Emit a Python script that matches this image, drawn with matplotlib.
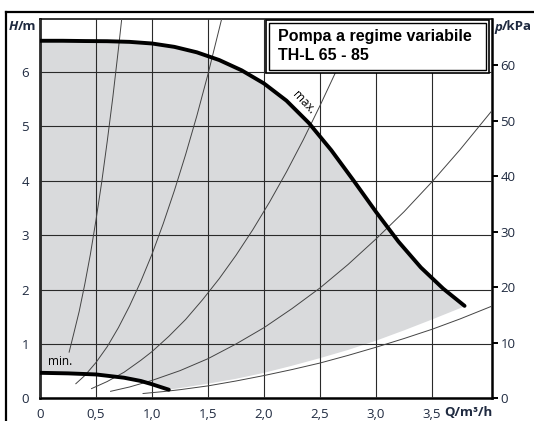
import matplotlib
matplotlib.use("Agg")
import matplotlib.pyplot as plt
from matplotlib.patches import Rectangle
from matplotlib.lines import Line2D

plt.rcParams["font.family"] = ["Open Sans", "DejaVu Sans"]

# %% data (Q in m3/h, H in m)
max_q = [0, 0.2, 0.4, 0.6, 0.8, 1.0, 1.2, 1.4, 1.6, 1.8, 2.0, 2.2, 2.4, 2.6, 2.8, 3.0, 3.2, 3.4, 3.6, 3.79]
max_h = [6.57, 6.57, 6.565, 6.562, 6.55, 6.52, 6.458, 6.358, 6.216, 6.027, 5.785, 5.47, 5.06, 4.56,
         4.0, 3.425, 2.88, 2.405, 2.015, 1.70]

min_q = [0, 0.25, 0.5, 0.75, 0.9, 1.0, 1.15]
min_h = [0.47, 0.46, 0.44, 0.38, 0.32, 0.26, 0.16]

# lower edge of the grey working range
edge_q = [1.15, 1.25, 1.5, 1.75, 2.0, 2.25, 2.5, 2.75, 3.0, 3.25, 3.5, 3.79]
edge_h = [0.16, 0.19, 0.27, 0.36, 0.47, 0.60, 0.74, 0.89, 1.06, 1.25, 1.45, 1.69]

# system curves
sys_curves = [
    ([0.26, 0.3, 0.35, 0.4, 0.45, 0.5, 0.55, 0.6, 0.65, 0.7, 0.73],
     [0.85, 1.18, 1.6, 2.10, 2.65, 3.28, 3.96, 4.72, 5.53, 6.42, 6.98]),
    ([0.32, 0.4, 0.5, 0.6, 0.7, 0.8, 0.9, 1.0, 1.1, 1.2, 1.3, 1.4, 1.5, 1.63],
     [0.27, 0.42, 0.66, 0.95, 1.30, 1.70, 2.15, 2.65, 3.21, 3.82, 4.48, 5.19, 5.96, 7.04]),
    ([0.46, 0.6, 0.75, 0.9, 1.0, 1.15, 1.3, 1.45, 1.6, 1.75, 1.9, 2.05, 2.2, 2.35, 2.5, 2.65, 2.85],
     [0.18, 0.31, 0.48, 0.70, 0.86, 1.14, 1.45, 1.81, 2.20, 2.63, 3.10, 3.61, 4.16, 4.75, 5.38, 6.04, 6.98]),
    ([0.63, 0.8, 1.0, 1.25, 1.5, 1.75, 2.0, 2.25, 2.5, 2.75, 3.0, 3.25, 3.5, 3.75, 4.04],
     [0.13, 0.21, 0.33, 0.51, 0.73, 1.0, 1.30, 1.65, 2.03, 2.46, 2.93, 3.43, 3.98, 4.57, 5.30]),
    ([0.92, 1.1, 1.25, 1.5, 1.75, 2.0, 2.25, 2.5, 2.75, 3.0, 3.25, 3.5, 3.75, 4.04],
     [0.09, 0.125, 0.16, 0.23, 0.32, 0.42, 0.53, 0.65, 0.79, 0.94, 1.10, 1.27, 1.46, 1.70]),
]

q_ticks = [0, 0.5, 1.0, 1.5, 2.0, 2.5, 3.0, 3.5]
q_labels = ["0", "0,5", "1,0", "1,5", "2,0", "2,5", "3,0", "3,5"]
h_ticks = [0, 1, 2, 3, 4, 5, 6]
p_ticks = [0, 10, 20, 30, 40, 50, 60]

title_lines = ["Pompa a regime variabile", "TH-L 65 - 85"]

# %%
W, H = 534, 421
lbl_col = "#1f2a40"


def px(x, y):
    return x / W, 1 - y / H


fig = plt.figure(figsize=(W / 100, H / 100), dpi=100)
ax = fig.add_axes([40 / W, 1 - 398.4 / H, 452 / W, 379.4 / H])
ax.set_xlim(0, 4.035)
ax.set_ylim(0, 6.97)

# grey area between max and min
poly_q = max_q + edge_q[::-1] + min_q[::-1]
poly_h = max_h + edge_h[::-1] + min_h[::-1]
ax.fill(poly_q, poly_h, color="#d9dadc", lw=0, zorder=1)

ax.set_xticks(q_ticks)
ax.set_xticklabels(q_labels)
ax.set_yticks(h_ticks)
ax.grid(True, color="#2a2a2a", lw=0.8, zorder=2)
ax.set_axisbelow(False)
for q, h in sys_curves:
    ax.plot(q, h, color="#444444", lw=0.7, zorder=3)
ax.plot(max_q, max_h, color="black", lw=2.8, solid_capstyle="round", solid_joinstyle="round", zorder=4)
ax.plot(min_q, min_h, color="black", lw=2.8, solid_capstyle="round", solid_joinstyle="round", zorder=4)

ax.text(2.35, 5.43, "max.", rotation=-47, fontsize=8.5, ha="center", va="center", zorder=5)
ax.text(0.18, 0.68, "min.", fontsize=8.5, ha="center", va="center", zorder=5)

ax.tick_params(length=0, pad=7, labelsize=9.5, labelcolor=lbl_col)
ax.tick_params(axis="y", pad=8)
for s in ["left", "bottom", "right"]:
    ax.spines[s].set_linewidth(1.8)
ax.spines["top"].set_linewidth(1.1)

ax2 = ax.twinx()
ax2.set_ylim(0, 6.97 * 9.81)
ax2.set_yticks(p_ticks)
ax2.tick_params(length=4, width=1.4, pad=2, labelsize=9.5, labelcolor=lbl_col)
for s in ax2.spines.values():
    s.set_visible(False)

# outer frame
fig.add_artist(Line2D([6 / W, 6 / W], [0, 1 - 12 / H], color="black", lw=1.6, transform=fig.transFigure))
fig.add_artist(Line2D([6 / W, 1], [1 - 12 / H, 1 - 12 / H], color="black", lw=1.6, transform=fig.transFigure))

# title box with double border
x0, y0 = px(266, 73)
fig.add_artist(Rectangle((x0, y0), 223 / W, 53 / H, transform=fig.transFigure,
                         facecolor="white", edgecolor="black", lw=1.2, zorder=5))
x1, y1 = px(268.8, 70.2)
fig.add_artist(Rectangle((x1, y1), 217.4 / W, 47.4 / H, transform=fig.transFigure,
                         facecolor="none", edgecolor="black", lw=1.0, zorder=6))
fig.text(*px(278, 36), title_lines[0], fontsize=11.5, fontweight="bold", family="Liberation Sans",
         va="center", ha="left", zorder=7)
fig.text(*px(278, 55.5), title_lines[1], fontsize=11.5, fontweight="bold", family="Liberation Sans",
         va="center", ha="left", zorder=7)

# axis labels
fig.text(*px(9, 26), "H", fontsize=9.5, fontweight="bold", style="italic", color=lbl_col, va="center")
fig.text(*px(18, 26), "/m", fontsize=9.5, fontweight="bold", color=lbl_col, va="center")
fig.text(*px(494, 27), "p", fontsize=9.5, fontweight="bold", style="italic", color=lbl_col, va="center")
fig.text(*px(502, 27), "/kPa", fontsize=9.5, fontweight="bold", color=lbl_col, va="center")
fig.text(*px(444, 412), "Q/m³/h", fontsize=9.5, fontweight="bold", color=lbl_col, va="center")

fig.savefig("out.png", dpi=100)
